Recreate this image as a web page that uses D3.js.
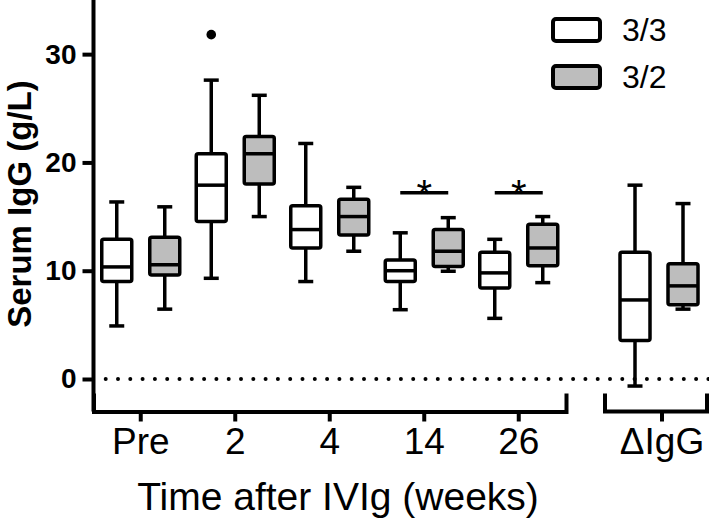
<!DOCTYPE html>
<html>
<head>
<meta charset="utf-8">
<script src="https://cdn.jsdelivr.net/npm/d3@7"></script>
<style>
  html, body { margin: 0; padding: 0; background: #fff; }
  svg { display: block; }
  text { font-family: "Liberation Sans", Arial, sans-serif; fill: #000; }
</style>
</head>
<body>
<svg id="chart" width="709" height="520"></svg>
<script>
// ---------- data ----------
const categories = ["Pre", "2", "4", "14", "26"];
const deltaCategory = ["ΔIgG"];
const groups = ["3/3", "3/2"];
const yTicks = [0, 10, 20, 30];

// 3/3 genotype (white boxes): whisker low, Q1, median, Q3, whisker high
const g33Low  = [4.9, 9.3, 9.0, 6.4, 5.6];
const g33Q1   = [9.0, 14.55, 12.1, 9.0, 8.4];
const g33Med  = [10.35, 17.9, 13.8, 10.0, 9.8];
const g33Q3   = [12.9, 20.8, 16.0, 11.0, 11.7];
const g33High = [16.35, 27.6, 21.75, 13.5, 12.9];

// 3/2 genotype (grey boxes)
const g32Low  = [6.45, 15.0, 11.8, 9.95, 8.9];
const g32Q1   = [9.6, 18.0, 13.3, 10.4, 10.45];
const g32Med  = [10.55, 20.8, 15.0, 11.8, 12.1];
const g32Q3   = [13.1, 22.4, 16.6, 13.8, 14.3];
const g32High = [15.9, 26.2, 17.7, 14.9, 15.0];

// ΔIgG panel: [low, Q1, median, Q3, high]
const delta33 = [-0.65, 3.55, 7.3, 11.7, 17.9];
const delta32 = [6.45, 6.85, 8.6, 10.65, 16.2];

// outliers
const outlierCats = ["2"];
const outlierGroups = ["3/3"];
const outlierValues = [31.8];

// significance bars
const sigCats = ["14", "26"];
const sigValues = [17.2, 17.2];
const sigLabels = ["*", "*"];

// ---------- layout ----------
const svg = d3.select("#chart");
const fillColors = {"3/3": "#ffffff", "3/2": "#bdbdbd"};
const axisY = 411.5;
const axisX = 93.5;
const SW = 3.5, AW = 4;

const y = d3.scaleLinear().domain([0, 35]).range([379, 0]);
const x = d3.scaleBand().domain(categories).range([93.5, 566]);
const xd = d3.scaleBand().domain(deltaCategory).range([605, 713]);
const xg = d3.scaleBand().domain(groups).range([-48, 48]);
const boxW = 30, capW = 15;

// build box records
const boxes = [];
categories.forEach((c, i) => {
  boxes.push({cx: x(c) + x.bandwidth()/2 + xg("3/3") + xg.bandwidth()/2, g: "3/3",
    low: g33Low[i], q1: g33Q1[i], med: g33Med[i], q3: g33Q3[i], high: g33High[i]});
  boxes.push({cx: x(c) + x.bandwidth()/2 + xg("3/2") + xg.bandwidth()/2, g: "3/2",
    low: g32Low[i], q1: g32Q1[i], med: g32Med[i], q3: g32Q3[i], high: g32High[i]});
});
[[delta33, "3/3"], [delta32, "3/2"]].forEach(([d, g]) => {
  boxes.push({cx: xd("ΔIgG") + xd.bandwidth()/2 + xg(g) + xg.bandwidth()/2, g: g,
    low: d[0], q1: d[1], med: d[2], q3: d[3], high: d[4]});
});

// zero dotted line
svg.append("line")
  .attr("x1", 105.7).attr("x2", 709)
  .attr("y1", y(0)).attr("y2", y(0))
  .attr("stroke", "#000").attr("stroke-width", 4)
  .attr("stroke-linecap", "round")
  .attr("stroke-dasharray", "0 12.3");

// boxes
const bg = svg.append("g").attr("stroke", "#000").attr("stroke-width", SW)
  .attr("stroke-linejoin", "round");
boxes.forEach(b => {
  bg.append("line").attr("x1", b.cx).attr("x2", b.cx).attr("y1", y(b.high)).attr("y2", y(b.q3));
  bg.append("line").attr("x1", b.cx).attr("x2", b.cx).attr("y1", y(b.q1)).attr("y2", y(b.low));
  bg.append("line").attr("x1", b.cx - capW/2).attr("x2", b.cx + capW/2).attr("y1", y(b.high)).attr("y2", y(b.high));
  bg.append("line").attr("x1", b.cx - capW/2).attr("x2", b.cx + capW/2).attr("y1", y(b.low)).attr("y2", y(b.low));
  bg.append("rect").attr("x", b.cx - boxW/2).attr("width", boxW)
    .attr("y", y(b.q3)).attr("height", y(b.q1) - y(b.q3))
    .attr("rx", 2).attr("fill", fillColors[b.g]);
  bg.append("line").attr("x1", b.cx - boxW/2).attr("x2", b.cx + boxW/2).attr("y1", y(b.med)).attr("y2", y(b.med));
});

// outliers
outlierValues.forEach((v, i) => {
  svg.append("circle")
    .attr("cx", x(outlierCats[i]) + x.bandwidth()/2 + xg(outlierGroups[i]) + xg.bandwidth()/2)
    .attr("cy", y(v)).attr("r", 4.8).attr("fill", "#000");
});

// significance
sigCats.forEach((c, i) => {
  const x1 = x(c) + x.bandwidth()/2 + xg("3/3") + xg.bandwidth()/2;
  const x2 = x(c) + x.bandwidth()/2 + xg("3/2") + xg.bandwidth()/2;
  svg.append("line").attr("x1", x1).attr("x2", x2)
    .attr("y1", y(sigValues[i])).attr("y2", y(sigValues[i]))
    .attr("stroke", "#000").attr("stroke-width", SW);
  svg.append("text").attr("x", (x1 + x2)/2).attr("y", y(sigValues[i]) + 15)
    .attr("text-anchor", "middle").attr("font-size", 40).text(sigLabels[i]);
});

// y axis
const yAxis = d3.axisLeft(y).tickValues(yTicks).tickSize(11).tickPadding(6);
const ya = svg.append("g").attr("transform", `translate(${axisX},0)`).call(yAxis);
ya.select(".domain").remove();
ya.selectAll(".tick line").attr("stroke", "#000").attr("stroke-width", AW);
ya.selectAll(".tick text").attr("font-size", 28).attr("font-weight", "bold")
  .attr("font-family", "Liberation Sans, Arial, sans-serif").attr("fill", "#000");
svg.append("line").attr("x1", axisX).attr("x2", axisX).attr("y1", 0).attr("y2", axisY)
  .attr("stroke", "#000").attr("stroke-width", AW);

// x axes (two segments)
function styleX(sel) {
  sel.select(".domain").attr("stroke", "#000").attr("stroke-width", AW).attr("fill", "none");
  sel.selectAll(".tick line").attr("stroke", "#000").attr("stroke-width", AW);
  sel.selectAll(".tick text").attr("font-size", 37)
    .attr("font-family", "Liberation Sans, Arial, sans-serif").attr("fill", "#000");
}
const xa = svg.append("g").attr("transform", `translate(0,${axisY})`)
  .call(d3.axisBottom(x).tickSizeInner(10).tickSizeOuter(-18).tickPadding(6));
styleX(xa);
const xda = svg.append("g").attr("transform", `translate(0,${axisY})`)
  .call(d3.axisBottom(d3.scaleBand().domain(deltaCategory).range([605, 719]))
    .tickSizeInner(10).tickSizeOuter(-18).tickPadding(6));
styleX(xda);
xda.select(".domain").attr("d", `M605,-18V0H707V-18`);

// axis titles
svg.append("text").attr("x", 338).attr("y", 510).attr("text-anchor", "middle")
  .attr("font-size", 39).text("Time after IVIg (weeks)");
svg.append("text").attr("transform", `translate(31,204) rotate(-90)`)
  .attr("text-anchor", "middle").attr("font-size", 33).attr("font-weight", "bold")
  .text("Serum IgG (g/L)");

// legend
const legend = svg.append("g");
groups.forEach((g, i) => {
  const ly = 30 + i * 47;
  legend.append("rect").attr("x", 553).attr("y", ly - 11).attr("width", 47).attr("height", 22)
    .attr("rx", 3).attr("fill", fillColors[g]).attr("stroke", "#000").attr("stroke-width", AW);
  legend.append("text").attr("x", 622).attr("y", ly).attr("dy", "0.35em")
    .attr("font-size", 32).text(g);
});
</script>
</body>
</html>
